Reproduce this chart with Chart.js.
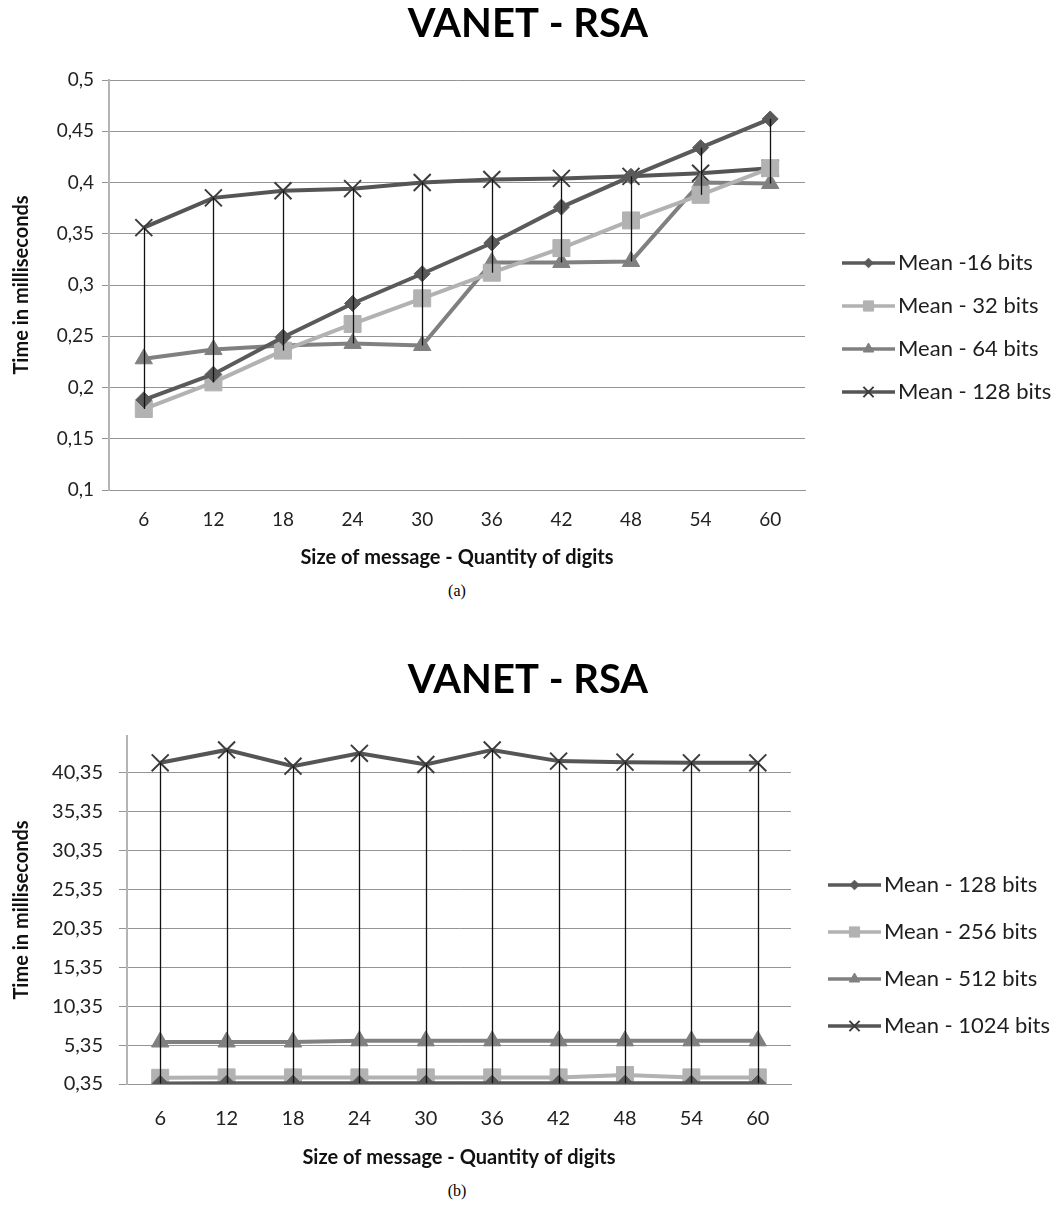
<!DOCTYPE html>
<html>
<head>
<meta charset="utf-8">
<script src="https://cdn.jsdelivr.net/npm/chart.js@4/dist/chart.umd.min.js"></script>
<style>
  html, body { margin: 0; padding: 0; background: #fff; }
  body { width: 1056px; height: 1209px; position: relative; overflow: hidden; }
  .box { position: absolute; left: 0; width: 1056px; }
  .cap { position: absolute; left: 0; width: 914px; text-align: center; font: 16px "Liberation Serif", serif; color: #000; }
</style>
</head>
<body>
<div class="box" style="top:0;height:575px"><canvas id="chartA"></canvas></div>
<div class="cap" style="top:582px">(a)</div>
<div class="box" style="top:656px;height:520px"><canvas id="chartB"></canvas></div>
<div class="cap" style="top:1182px">(b)</div>
<script>
// x categories: size of message (digits)
const sizes = ['6', '12', '18', '24', '30', '36', '42', '48', '54', '60'];

// (a) small keys, time in ms
const mean16 = [0.188, 0.213, 0.249, 0.282, 0.311, 0.341, 0.376, 0.406, 0.434, 0.462];
const mean32 = [0.179, 0.205, 0.236, 0.262, 0.287, 0.312, 0.336, 0.363, 0.388, 0.414];
const mean64 = [0.228, 0.237, 0.241, 0.243, 0.241, 0.322, 0.322, 0.323, 0.400, 0.399];
const mean128a = [0.356, 0.385, 0.392, 0.394, 0.400, 0.403, 0.404, 0.406, 0.409, 0.414];
const yTicksA = [0.1, 0.15, 0.2, 0.25, 0.3, 0.35, 0.4, 0.45, 0.5];

// (b) large keys, time in ms
const mean128b = [0.42, 0.45, 0.45, 0.45, 0.45, 0.45, 0.45, 0.45, 0.45, 0.45];
const mean256 = [1.15, 1.2, 1.2, 1.2, 1.2, 1.2, 1.2, 1.5, 1.2, 1.2];
const mean512 = [5.75, 5.75, 5.75, 5.9, 5.9, 5.9, 5.9, 5.9, 5.9, 5.9];
const mean1024 = [41.65, 43.31, 41.22, 42.87, 41.44, 43.31, 41.87, 41.74, 41.65, 41.65];
const yTicksB = [0.35, 5.35, 10.35, 15.35, 20.35, 25.35, 30.35, 35.35, 40.35];

Chart.defaults.font.family = 'Lato, "Open Sans", sans-serif';
Chart.defaults.color = '#222';

function series(label, data, color, style, radius, markerColor) {
  return {
    label: label,
    data: data,
    borderColor: color,
    borderWidth: 4,
    pointStyle: style,
    pointRadius: radius,
    pointHoverRadius: radius,
    pointBackgroundColor: markerColor || color,
    pointBorderColor: markerColor || color,
    pointBorderWidth: style === 'crossRot' ? 2 : 1,
    tension: 0
  };
}

// black high-low line at every category
const highLowLines = {
  id: 'highLowLines',
  afterDatasetsDraw(chart) {
    const ctx = chart.ctx, xs = chart.scales.x, ys = chart.scales.y;
    ctx.save();
    ctx.strokeStyle = '#111';
    ctx.lineWidth = 1.3;
    chart.data.labels.forEach((lab, i) => {
      const vals = chart.data.datasets.map(d => d.data[i]);
      const px = Math.round(xs.getPixelForValue(i)) + 0.5;
      ctx.beginPath();
      ctx.moveTo(px, ys.getPixelForValue(Math.max(...vals)));
      ctx.lineTo(px, ys.getPixelForValue(Math.min(...vals)));
      ctx.stroke();
    });
    ctx.restore();
  }
};

// legend on the right: short line with marker, then label
const sideLegend = {
  id: 'sideLegend',
  afterDraw(chart, args, opts) {
    const ctx = chart.ctx;
    const x0 = chart.chartArea.right + opts.offset;
    ctx.save();
    chart.data.datasets.forEach((ds, i) => {
      const y = opts.top + i * opts.gap;
      ctx.strokeStyle = ds.borderColor;
      ctx.lineWidth = 3.5;
      ctx.beginPath();
      ctx.moveTo(x0, y);
      ctx.lineTo(x0 + opts.lineLength, y);
      ctx.stroke();
      ctx.fillStyle = ds.pointBackgroundColor;
      ctx.strokeStyle = ds.pointBorderColor;
      ctx.lineWidth = ds.pointBorderWidth;
      Chart.helpers.drawPoint(ctx, {
        pointStyle: ds.pointStyle,
        radius: ds.pointRadius * 0.6,
        rotation: 0,
        borderWidth: ds.pointBorderWidth
      }, x0 + opts.lineLength / 2, y);
      ctx.fillStyle = '#1e1e1e';
      ctx.font = opts.font;
      ctx.textAlign = 'left';
      ctx.textBaseline = 'middle';
      ctx.fillText(ds.label, x0 + opts.lineLength + 3, y);
    });
    ctx.restore();
  }
};

function makeChart(id, datasets, yMin, yMax, yTicks, o) {
  return new Chart(document.getElementById(id), {
    type: 'line',
    data: { labels: sizes, datasets: datasets },
    plugins: [highLowLines, sideLegend],
    options: {
      responsive: true,
      maintainAspectRatio: false,
      animation: false,
      layout: { padding: 0 },
      plugins: {
        legend: { display: false },
        tooltip: { enabled: false },
        title: {
          display: true,
          text: 'VANET - RSA',
          font: { size: 40, weight: 'bold' },
          color: '#000',
          padding: { top: 0, bottom: 32 }
        },
        sideLegend: { offset: 37, top: o.legendTop, gap: o.legendGap, lineLength: 53, font: '22px Lato, sans-serif' }
      },
      scales: {
        x: {
          type: 'category',
          offset: true,
          grid: { display: false, drawTicks: false },
          border: { display: true, color: '#949494', width: 1 },
          ticks: { font: { size: o.tickSize }, padding: o.xTickPad, color: '#222' },
          title: {
            display: true,
            text: 'Size of message - Quantity of digits',
            font: { size: 20, weight: 'bold' },
            color: '#111',
            padding: { top: 0, bottom: o.xTitlePad }
          },
          afterFit: s => { s.height = o.xHeight; }
        },
        y: {
          min: yMin,
          max: yMax,
          afterBuildTicks: s => { s.ticks = yTicks.map(v => ({ value: v })); },
          grid: { color: '#949494', lineWidth: 1, drawTicks: true, tickLength: o.tickLen },
          border: { display: true, color: '#b4b4b4', width: 2 },
          ticks: {
            font: { size: o.tickSize },
            padding: o.yTickPad,
            color: '#222',
            callback: v => String(v).replace('.', ',')
          },
          title: {
            display: true,
            text: 'Time in milliseconds',
            font: { size: 20, weight: 'bold' },
            color: '#111',
            padding: { top: 10, bottom: 0 }
          },
          afterFit: s => { s.width = o.yWidth; }
        },
        // empty right-hand strip that leaves room for the legend
        legendSpace: {
          type: 'linear',
          position: 'right',
          display: true,
          grid: { display: false, drawTicks: false },
          border: { display: false },
          ticks: { display: false },
          afterFit: s => { s.width = o.right; }
        }
      }
    }
  });
}

makeChart('chartA', [
  series('Mean -16 bits', mean16, '#5a5a5a', 'rectRot', 8),
  series('Mean - 32 bits', mean32, '#b2b2b2', 'rect', 12),
  series('Mean - 64 bits', mean64, '#808080', 'triangle', 10),
  series('Mean - 128 bits', mean128a, '#555555', 'crossRot', 12, '#3c3c3c')
], 0.1, 0.5, yTicksA, {
  right: 251, yWidth: 109, xHeight: 85, tickLen: 7, yTickPad: 8, xTickPad: 18,
  xTitlePad: 5, tickSize: 19, legendTop: 263, legendGap: 43
});

makeChart('chartB', [
  series('Mean - 128 bits', mean128b, '#5a5a5a', 'rectRot', 8),
  series('Mean - 256 bits', mean256, '#b2b2b2', 'rect', 12),
  series('Mean - 512 bits', mean512, '#808080', 'triangle', 10),
  series('Mean - 1024 bits', mean1024, '#555555', 'crossRot', 12, '#3c3c3c')
], 0.35, 45.1, yTicksB, {
  right: 265, yWidth: 127, xHeight: 92, tickLen: 8, yTickPad: 16, xTickPad: 23,
  xTitlePad: 6, tickSize: 20, legendTop: 229, legendGap: 47
});
</script>
</body>
</html>
